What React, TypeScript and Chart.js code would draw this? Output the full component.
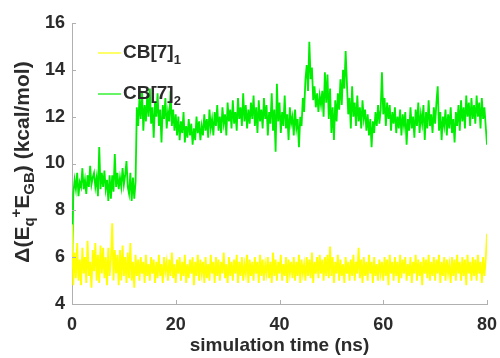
import React, { useEffect, useRef } from "react";
import { Chart, registerables } from "chart.js";

Chart.register(...registerables);

const TIME_STEP_NS = 0.25;
const X_TICKS = [0, 20, 40, 60, 80];
const Y_TICKS = [4, 6, 8, 10, 12, 14, 16];

const CB7_1 = [
  7.4, 4.8, 6.2, 5.1, 6.6, 5.0, 5.9, 4.8, 6.4, 5.3,
  6.0, 4.9, 6.7, 5.2, 5.8, 4.7, 6.3, 5.4, 6.6, 5.0,
  6.1, 4.9, 6.5, 5.3, 6.4, 5.1, 6.0, 4.8, 6.4, 5.2,
  5.9, 7.45, 5.0, 6.3, 5.3, 6.1, 4.8, 6.3, 5.0, 6.5,
  5.2, 6.0, 4.9, 6.2, 5.1, 6.6, 5.0, 5.8, 4.7, 6.1,
  5.2, 5.9, 5.0, 6.0, 5.3, 5.8, 4.9, 6.1, 5.2, 5.7,
  5.0, 6.0, 5.3, 5.9, 4.9, 5.8, 5.1, 6.1, 5.2, 5.7,
  4.9, 6.0, 5.4, 5.8, 5.0, 5.9, 5.2, 6.2, 5.1, 5.7,
  4.9, 5.9, 5.3, 6.0, 5.0, 5.8, 5.2, 6.1, 4.9, 5.7,
  5.1, 5.9, 5.3, 6.0, 4.8, 5.8, 5.2, 6.1, 5.0, 5.9,
  5.3, 5.8, 4.9, 6.0, 5.1, 5.7, 5.0, 6.1, 5.3, 5.8,
  4.9, 6.0, 5.2, 5.9, 5.0, 5.8, 5.3, 6.2, 5.1, 5.7,
  4.9, 6.0, 5.2, 5.8, 5.0, 5.9, 5.3, 6.1, 4.9, 5.8,
  5.2, 6.0, 5.0, 5.7, 5.3, 6.1, 4.9, 5.9, 5.2, 5.8,
  5.0, 6.0, 5.3, 5.8, 4.9, 6.1, 5.2, 5.9, 5.0, 5.7,
  5.3, 6.0, 5.1, 5.8, 4.9, 6.2, 5.2, 5.9, 5.0, 5.8,
  5.3, 6.1, 5.0, 5.7, 5.2, 6.0, 4.9, 5.9, 5.3, 5.8,
  5.1, 6.0, 5.0, 5.8, 5.2, 6.1, 4.9, 5.9, 5.3, 5.7,
  5.0, 6.0, 5.2, 5.9, 5.1, 6.2, 4.9, 5.8, 5.3, 6.0,
  5.1, 6.1, 5.3, 5.9, 5.0, 6.0, 5.2, 6.1, 5.1, 6.45,
  5.2, 6.0, 4.9, 5.8, 5.3, 6.1, 5.0, 5.9, 5.2, 5.7,
  4.9, 6.0, 5.3, 5.8, 5.0, 5.9, 5.2, 6.1, 5.0, 5.8,
  5.3, 6.4, 5.1, 5.9, 4.9, 6.0, 5.2, 5.8, 5.0, 6.1,
  5.3, 5.8, 4.9, 6.0, 5.2, 5.7, 5.0, 5.9, 5.3, 5.8,
  5.0, 6.0, 5.2, 5.9, 4.8, 6.1, 5.3, 5.8, 5.0, 6.0,
  5.2, 5.8, 4.9, 6.1, 5.1, 5.9, 5.3, 6.0, 5.0, 5.7,
  5.2, 6.0, 4.9, 5.8, 5.3, 6.1, 5.0, 5.9, 5.2, 5.8,
  4.8, 6.0, 5.3, 5.9, 5.1, 6.1, 5.0, 5.8, 5.2, 6.0,
  5.0, 5.9, 5.3, 6.1, 4.9, 5.8, 5.2, 6.0, 5.0, 5.9,
  5.3, 5.7, 4.9, 6.0, 5.2, 5.9, 5.0, 6.1, 5.3, 5.8,
  5.0, 6.0, 5.2, 5.9, 4.8, 6.1, 5.3, 5.8, 5.0, 6.0,
  5.2, 5.9, 5.0, 6.1, 5.3, 5.8, 4.9, 6.0, 5.2, 5.9,
  7.0,
];

const CB7_2 = [
  5.4, 8.7, 9.3, 8.9, 9.6, 8.6, 9.2, 9.0, 9.8, 8.9,
  9.3, 8.7, 9.5, 9.0, 9.9, 9.1, 9.4, 9.6, 9.0, 9.4,
  8.6, 10.7, 8.9, 9.6, 9.0, 9.7, 8.9, 9.3, 8.4, 9.5,
  8.5, 9.5, 8.8, 10.4, 9.0, 9.6, 8.9, 9.4, 9.0, 9.8,
  9.1, 9.5, 10.1, 9.0, 8.7, 9.6, 8.4, 9.4, 8.5, 9.2,
  12.4, 11.6, 12.8, 11.9, 13.1, 11.4, 12.5, 11.8, 12.9, 12.0,
  13.2, 11.7, 12.4, 11.1, 12.6, 12.0, 13.0, 11.6, 12.3, 10.9,
  12.5, 11.9, 12.8, 11.5, 12.2, 11.8, 13.1, 11.6, 12.3, 11.4,
  12.1, 11.2, 12.0, 11.0, 11.8, 11.3, 12.2, 10.9, 11.6, 11.1,
  11.9, 11.2, 11.7, 10.8, 11.5, 11.0, 12.0, 11.3, 11.8, 11.0,
  11.6, 11.2, 12.1, 11.4, 11.9, 11.1, 12.3, 11.5, 11.9, 11.2,
  12.2, 11.6, 12.5, 11.4, 12.0, 11.3, 12.4, 11.7, 12.1, 11.2,
  12.6, 11.8, 12.3, 11.5, 12.7, 11.7, 12.2, 11.4, 12.8, 11.9,
  12.4, 11.6, 13.0, 11.8, 12.5, 11.5, 12.3, 11.7, 12.6, 11.9,
  12.9, 11.6, 12.4, 11.3, 12.7, 11.8, 12.3, 11.5, 12.8, 11.9,
  12.5, 11.2, 12.2, 11.7, 13.0, 11.4, 12.3, 10.5, 13.4, 11.8,
  12.6, 11.3, 12.2, 11.6, 12.9, 11.5, 12.1, 11.0, 12.4, 11.7,
  12.0, 11.2, 12.3, 11.5, 11.9, 10.7, 12.0, 11.6, 12.8, 12.2,
  13.6, 14.2, 13.1, 15.2, 13.6, 14.1, 12.7, 13.3, 12.4, 13.0,
  12.2, 12.9, 12.5, 13.1, 12.0, 13.9, 12.6, 13.8, 11.9, 13.2,
  11.3, 12.4, 11.0, 12.7, 11.8, 13.0, 12.3, 13.6, 12.5, 14.0,
  13.2, 14.8, 13.4, 12.1, 12.8, 11.5, 13.3, 12.0, 12.6, 11.6,
  12.9, 11.8, 12.4, 11.5, 12.7, 11.9, 12.3, 11.4, 12.1, 11.2,
  11.9, 10.7, 11.8, 11.3, 12.2, 11.6, 12.5, 11.7, 12.3, 13.9,
  12.1, 12.8, 11.6, 12.6, 11.9, 12.5, 11.4, 12.2, 11.7, 12.4,
  11.3, 12.0, 11.5, 12.3, 11.2, 12.1, 11.6, 12.2, 10.8, 11.9,
  11.4, 12.4, 11.5, 12.0, 11.1, 12.3, 11.6, 12.6, 11.3, 12.1,
  11.7, 12.5, 11.0, 12.2, 11.5, 12.7, 11.6, 12.1, 11.3, 12.4,
  11.7, 12.6, 13.3, 11.4, 12.2, 11.0, 12.0, 11.6, 12.3, 11.2,
  12.1, 11.5, 12.4, 11.3, 11.9, 10.9, 12.2, 11.6, 12.5, 11.4,
  12.7, 11.8, 12.4, 11.5, 12.9, 12.0, 12.6, 11.6, 12.8, 11.9,
  12.5, 11.7, 12.9, 12.0, 12.6, 11.5, 12.8, 11.9, 12.4, 11.6,
  10.8,
];

const SERIES = [
  { label: "CB[7]", sub: "1", color: "#ffff00", values: CB7_1 },
  { label: "CB[7]", sub: "2", color: "#00ee00", values: CB7_2 },
];

const TEXT_COLOR = "#2b2b2b";
const AXIS_COLOR = "#b0b0b0";
const FONT_FAMILY = "'Liberation Sans', Arial, sans-serif";

type Part = { t: string; sub?: boolean; sup?: boolean };

function measureRich(ctx: CanvasRenderingContext2D, parts: Part[], size: number, subSize: number) {
  let w = 0;
  for (const p of parts) {
    ctx.font = `bold ${p.sub || p.sup ? subSize : size}px ${FONT_FAMILY}`;
    w += ctx.measureText(p.t).width;
  }
  return w;
}

function drawRich(
  ctx: CanvasRenderingContext2D,
  parts: Part[],
  x: number,
  y: number,
  size: number,
  subSize: number,
  subShift: number
) {
  let cx = x;
  ctx.textBaseline = "alphabetic";
  ctx.textAlign = "left";
  for (const p of parts) {
    ctx.font = `bold ${p.sub || p.sup ? subSize : size}px ${FONT_FAMILY}`;
    const dy = p.sub ? subShift : p.sup ? -size * 0.38 : 0;
    ctx.fillText(p.t, cx, y + dy);
    cx += ctx.measureText(p.t).width;
  }
}

const decorPlugin = {
  id: "decor",
  afterDraw(chart: any) {
    const ctx: CanvasRenderingContext2D = chart.ctx;
    const xs = chart.scales.x;
    const ys = chart.scales.y;
    const area = chart.chartArea;
    ctx.save();
    ctx.strokeStyle = AXIS_COLOR;
    ctx.lineWidth = 1;
    ctx.beginPath();
    for (const v of X_TICKS) {
      const px = Math.round(xs.getPixelForValue(v)) + 0.5;
      ctx.moveTo(px, area.bottom);
      ctx.lineTo(px, area.bottom - 4);
    }
    for (const v of Y_TICKS) {
      const py = Math.round(ys.getPixelForValue(v)) + 0.5;
      ctx.moveTo(area.left, py);
      ctx.lineTo(area.left + 4, py);
    }
    ctx.stroke();

    ctx.fillStyle = TEXT_COLOR;
    const yParts: Part[] = [
      { t: "\u0394(E" },
      { t: "q", sub: true },
      { t: "+", sup: true },
      { t: "E" },
      { t: "GB", sub: true },
      { t: ") (kcal/mol)" },
    ];
    const size = 21;
    const subSize = 15;
    const w = measureRich(ctx, yParts, size, subSize);
    ctx.translate(29, 162);
    ctx.rotate(-Math.PI / 2);
    drawRich(ctx, yParts, -w / 2, 0, size, subSize, 5);
    ctx.setTransform(1, 0, 0, 1, 0, 0);

    const legX = 98;
    const legY = [51, 92];
    SERIES.forEach((s, i) => {
      const y = legY[i];
      ctx.strokeStyle = s.color;
      ctx.lineWidth = 1.2;
      ctx.beginPath();
      ctx.moveTo(legX, y + 2);
      ctx.lineTo(legX + 23, y + 2);
      ctx.stroke();
      ctx.fillStyle = TEXT_COLOR;
      drawRich(ctx, [{ t: s.label }, { t: s.sub, sub: true }], legX + 25, y + 7, 19, 13, 6);
    });
    ctx.restore();
  },
};

export default function App() {
  const canvasRef = useRef<HTMLCanvasElement | null>(null);

  useEffect(() => {
    const canvas = canvasRef.current;
    if (!canvas) return;
    const datasets = SERIES.map((s) => ({
      label: s.label + s.sub,
      data: s.values.map((v, i) => ({ x: i * TIME_STEP_NS, y: v })),
      borderColor: s.color,
      backgroundColor: s.color,
      borderWidth: 1.8,
      pointRadius: 0,
      tension: 0,
      fill: false,
    }));
    const chart = new Chart(canvas, {
      type: "line",
      data: { datasets },
      options: {
        animation: false,
        responsive: false,
        maintainAspectRatio: false,
        layout: { padding: { left: 0, right: 13, top: 23, bottom: 0 } },
        plugins: {
          legend: { display: false },
          tooltip: { enabled: false },
          title: { display: false },
        },
        scales: {
          x: {
            type: "linear",
            min: 0,
            max: 80,
            afterBuildTicks: (axis: any) => {
              axis.ticks = X_TICKS.map((v) => ({ value: v }));
            },
            afterFit: (axis: any) => {
              axis.height = 54;
              axis.paddingLeft = 0;
              axis.paddingRight = 0;
            },
            grid: { display: false, drawTicks: false },
            border: { display: true, color: AXIS_COLOR, width: 1 },
            ticks: {
              color: TEXT_COLOR,
              font: { family: FONT_FAMILY, size: 18, weight: "bold" },
              padding: 10,
              maxRotation: 0,
            },
            title: {
              display: true,
              text: "simulation time (ns)",
              color: TEXT_COLOR,
              font: { family: FONT_FAMILY, size: 19, weight: "bold" },
              padding: { top: 0, bottom: 1 },
            },
          },
          y: {
            type: "linear",
            min: 4,
            max: 16,
            afterBuildTicks: (axis: any) => {
              axis.ticks = Y_TICKS.map((v) => ({ value: v }));
            },
            afterFit: (axis: any) => {
              axis.width = 72;
              axis.paddingTop = 0;
              axis.paddingBottom = 0;
            },
            grid: { display: false, drawTicks: false },
            border: { display: true, color: AXIS_COLOR, width: 1 },
            ticks: {
              color: TEXT_COLOR,
              font: { family: FONT_FAMILY, size: 18, weight: "bold" },
              padding: 7,
            },
          },
        },
      },
      plugins: [decorPlugin],
    } as any);
    return () => chart.destroy();
  }, []);

  return (
    <div style={{ position: "fixed", left: 0, top: 0, width: 500, height: 358, background: "#fff" }}>
      <canvas ref={canvasRef} width={500} height={358} style={{ width: 500, height: 358 }} />
    </div>
  );
}
